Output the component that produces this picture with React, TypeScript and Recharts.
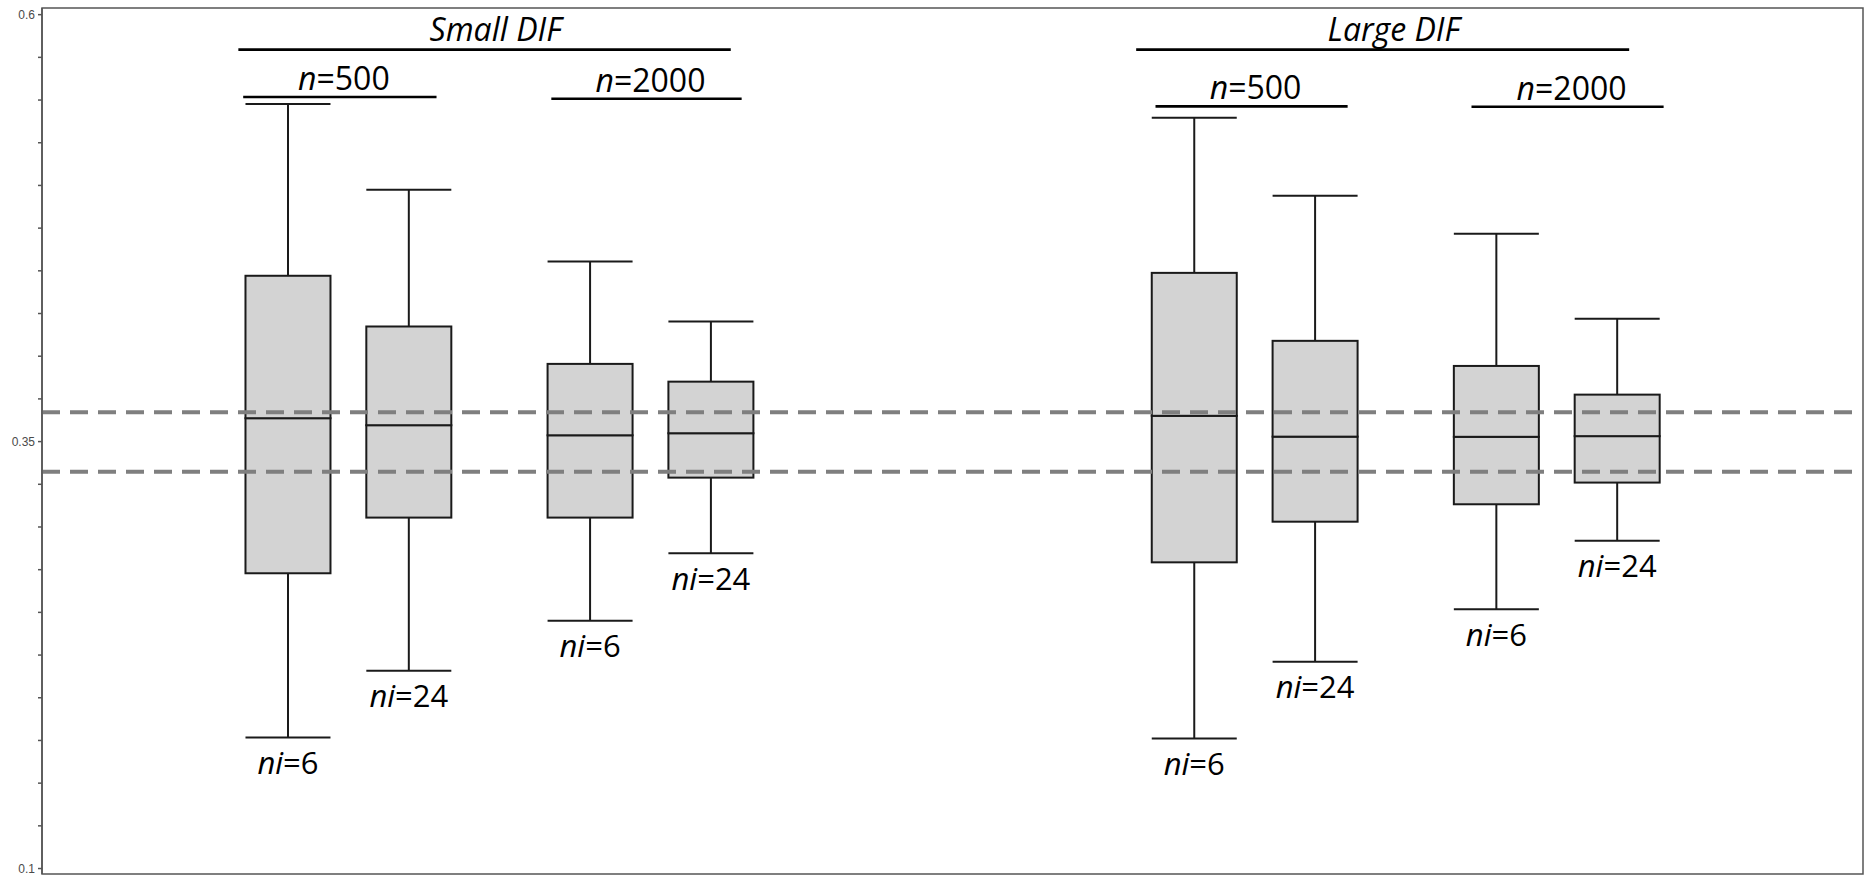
import React from "react";
import {
  ComposedChart,
  Bar,
  XAxis,
  YAxis,
  ReferenceLine,
  ReferenceArea,
} from "recharts";

const difLevels = ["Small DIF", "Large DIF"];
const sampleSizes = [500, 2000];
const testLengths = [6, 24];

// one entry per box, ordered DIF -> n -> ni
const whiskerLow = [0.1768, 0.2158, 0.2451, 0.2846, 0.1762, 0.2211, 0.2518, 0.292];
const quartile1 = [0.2729, 0.3055, 0.3055, 0.3289, 0.2793, 0.3031, 0.3133, 0.326];
const medians = [0.3637, 0.3596, 0.3537, 0.3549, 0.3651, 0.3529, 0.3528, 0.3532];
const quartile3 = [0.4471, 0.4174, 0.3955, 0.3851, 0.4488, 0.409, 0.3943, 0.3775];
const whiskerHigh = [0.5477, 0.4975, 0.4554, 0.4203, 0.5396, 0.4939, 0.4717, 0.4219];

const referenceBand = [0.3324, 0.3672];
const yTickLabels = [0.1, 0.35, 0.6];
const yTickStep = 0.025;

const W = 1869;
const H = 877;
const X_DOMAIN: [number, number] = [-0.07, 30.07];
const Y_DOMAIN: [number, number] = [0.0968, 0.6039];
const FONT = "'Open Sans', 'Noto Sans', sans-serif";
const INK = "#1a1a1a";
const BOX_W = 85;

// x slot of a box: groups of DIF, then sample size, then test length
const slotOf = (d: number, s: number, k: number) => 4 + d * 15 + s * 5 + k * 2;

const rows: any[] = [];
difLevels.forEach((_, d) =>
  sampleSizes.forEach((_, s) =>
    testLengths.forEach((ni, k) => {
      const i = rows.length;
      rows.push({
        pos: slotOf(d, s, k),
        ni,
        base: whiskerLow[i],
        lowWhisker: quartile1[i] - whiskerLow[i],
        lowBox: medians[i] - quartile1[i],
        highBox: quartile3[i] - medians[i],
        highWhisker: whiskerHigh[i] - quartile3[i],
      });
    })
  )
);

const yTicks: number[] = [];
for (let v = yTickLabels[0]; v <= yTickLabels[yTickLabels.length - 1] + 1e-9; v += yTickStep) {
  yTicks.push(Math.round(v * 1000) / 1000);
}

// bracket lines above the boxes (x in slot units, y in data units)
const brackets = [
  { text: difLevels[0], heading: true, x: [3.18, 11.33], y: 0.5795 },
  { text: String(sampleSizes[0]), heading: false, x: [3.26, 6.46], y: 0.5518 },
  { text: String(sampleSizes[1]), heading: false, x: [8.36, 11.51], y: 0.5508 },
  { text: difLevels[1], heading: true, x: [18.04, 26.2], y: 0.5795 },
  { text: String(sampleSizes[0]), heading: false, x: [18.36, 21.54], y: 0.5463 },
  { text: String(sampleSizes[1]), heading: false, x: [23.59, 26.77], y: 0.5461 },
];

const Empty = () => <g />;

const LowWhisker = (p: any) => {
  const { x, y, width, height, payload } = p;
  const cx = x + width / 2;
  const bottom = y + height;
  return (
    <g>
      <line x1={cx} x2={cx} y1={y} y2={bottom} stroke={INK} strokeWidth={2} />
      <line x1={x} x2={x + width} y1={bottom} y2={bottom} stroke={INK} strokeWidth={2} />
      <text x={cx} y={bottom + 36.5} textAnchor="middle" fontFamily={FONT} fontSize={31} fill="#000">
        <tspan fontStyle="italic">ni</tspan>={payload.ni}
      </text>
    </g>
  );
};

const HighWhisker = (p: any) => {
  const { x, y, width, height } = p;
  const cx = x + width / 2;
  return (
    <g>
      <line x1={cx} x2={cx} y1={y} y2={y + height} stroke={INK} strokeWidth={2} />
      <line x1={x} x2={x + width} y1={y} y2={y} stroke={INK} strokeWidth={2} />
    </g>
  );
};

const BoxHalf = (p: any) => {
  const { x, y, width, height } = p;
  return <rect x={x} y={y} width={width} height={height} fill="#d3d3d3" stroke={INK} strokeWidth={2} />;
};

const bracketLabel = (text: string, heading: boolean) => (props: any) => {
  const vb = props.viewBox || {};
  const cx = vb.x + (vb.width || 0) / 2 + (heading ? 11 : 4);
  const y = vb.y - (heading ? 8.5 : 7);
  return (
    <text x={cx} y={y} textAnchor="middle" fontFamily={FONT} fontSize={32} fill="#000">
      {heading ? (
        <tspan fontStyle="italic">{text}</tspan>
      ) : (
        <>
          <tspan fontStyle="italic">n</tspan>={text}
        </>
      )}
    </text>
  );
};

export default function App() {
  return (
    <div style={{ position: "absolute", left: 0, top: 0, width: W, height: H, background: "#fff" }}>
      <ComposedChart
        width={W}
        height={H}
        data={rows}
        barSize={BOX_W}
        margin={{ top: 8, right: 6, bottom: 3, left: 6 }}
      >
        <XAxis type="number" dataKey="pos" domain={X_DOMAIN} allowDataOverflow ticks={[0, 30]} hide />
        <YAxis
          type="number"
          domain={Y_DOMAIN}
          allowDataOverflow
          ticks={yTicks}
          interval={0}
          width={36}
          tickSize={4}
          tickMargin={3}
          stroke="#555"
          strokeWidth={1.5}
          tick={{ fontSize: 12, fill: "#4a4a4a", fontFamily: "'Liberation Sans', Arial, sans-serif" }}
          tickFormatter={(v: number) =>
            yTickLabels.some((t) => Math.abs(t - v) < 1e-6) ? String(v) : ""
          }
        />
        <ReferenceArea
          x1={X_DOMAIN[0]}
          x2={X_DOMAIN[1]}
          y1={Y_DOMAIN[0]}
          y2={Y_DOMAIN[1]}
          fill="none"
          stroke="#555"
          strokeWidth={1.5}
          fillOpacity={0}
        />
        {referenceBand.map((v) => (
          <ReferenceLine key={v} y={v} stroke="#7f7f7f" strokeWidth={4} strokeDasharray="18 10" />
        ))}
        <Bar dataKey="base" stackId="box" shape={<Empty />} isAnimationActive={false} />
        <Bar dataKey="lowWhisker" stackId="box" shape={<LowWhisker />} isAnimationActive={false} />
        <Bar dataKey="lowBox" stackId="box" shape={<BoxHalf />} isAnimationActive={false} />
        <Bar dataKey="highBox" stackId="box" shape={<BoxHalf />} isAnimationActive={false} />
        <Bar dataKey="highWhisker" stackId="box" shape={<HighWhisker />} isAnimationActive={false} />
        {brackets.map((b, i) => (
          <ReferenceLine
            key={i}
            segment={[
              { x: b.x[0], y: b.y },
              { x: b.x[1], y: b.y },
            ]}
            stroke="#000"
            strokeWidth={2.6}
            label={bracketLabel(b.text, b.heading)}
          />
        ))}
      </ComposedChart>
    </div>
  );
}
